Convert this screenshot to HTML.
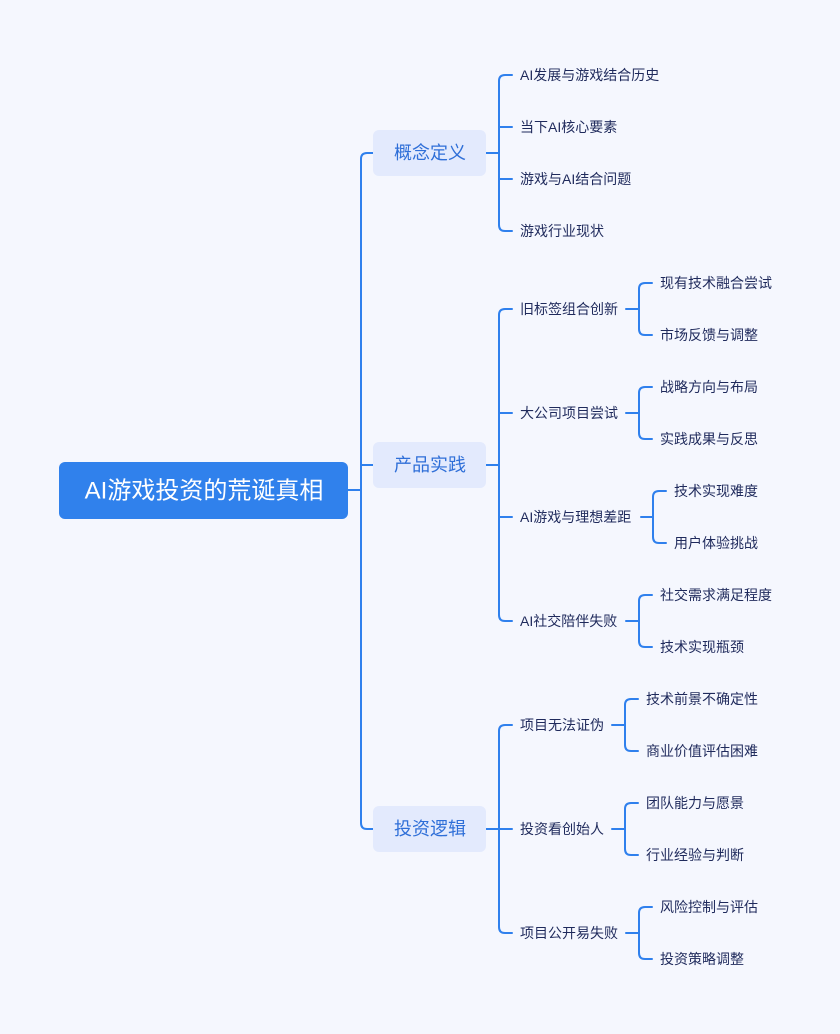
<!DOCTYPE html>
<html><head><meta charset="utf-8"><style>
html,body{margin:0;padding:0;background:#f5f7fe;}
svg{display:block;}
text{font-family:"Liberation Sans","Noto Sans CJK SC",sans-serif;}
.t{font-size:14px;fill:#1f2a5c;}
.l1{font-size:18px;fill:#2f6fd8;}
</style></head><body>
<svg width="840" height="1034" viewBox="0 0 840 1034" xmlns="http://www.w3.org/2000/svg">
<rect x="0" y="0" width="840" height="1034" fill="#f5f7fe"/>
<g fill="none" stroke="#2f80ed" stroke-width="2" stroke-linecap="round">
<path d="M348 490H361M373 153H367Q361 153 361 159V823Q361 829 367 829H373M361 465H373"/>
<path d="M486 153H499M512 75H505Q499 75 499 81V225Q499 231 505 231H512M499 127H512M499 179H512"/>
<path d="M486 465H499M512 309H505Q499 309 499 315V615Q499 621 505 621H512M499 413H512M499 517H512"/>
<path d="M486 829H499M512 725H505Q499 725 499 731V927Q499 933 505 933H512M499 829H512"/>
<path d="M626 309H639M652 283H645Q639 283 639 289V329Q639 335 645 335H652"/>
<path d="M626 413H639M652 387H645Q639 387 639 393V433Q639 439 645 439H652"/>
<path d="M641 517H653M666 491H659Q653 491 653 497V537Q653 543 659 543H666"/>
<path d="M626 621H639M652 595H645Q639 595 639 601V641Q639 647 645 647H652"/>
<path d="M612 725H625M638 699H631Q625 699 625 705V745Q625 751 631 751H638"/>
<path d="M612 829H625M638 803H631Q625 803 625 809V849Q625 855 631 855H638"/>
<path d="M626 933H639M652 907H645Q639 907 639 913V953Q639 959 645 959H652"/>
</g>
<rect x="59" y="462" width="289" height="57" rx="6" fill="#3081ec"/>
<text x="204" y="491" font-size="24" fill="#fff" text-anchor="middle" dominant-baseline="central">AI游戏投资的荒诞真相</text>
<rect x="373" y="130" width="113" height="46" rx="6" fill="#e3eafd"/>
<rect x="373" y="442" width="113" height="46" rx="6" fill="#e3eafd"/>
<rect x="373" y="806" width="113" height="46" rx="6" fill="#e3eafd"/>
<g text-anchor="middle" dominant-baseline="central" class="l1">
<text x="430" y="153" class="l1">概念定义</text>
<text x="430" y="465" class="l1">产品实践</text>
<text x="430" y="829" class="l1">投资逻辑</text>
</g>
<g dominant-baseline="central">
<text class="t" x="520" y="75">AI发展与游戏结合历史</text>
<text class="t" x="520" y="127">当下AI核心要素</text>
<text class="t" x="520" y="179">游戏与AI结合问题</text>
<text class="t" x="520" y="231">游戏行业现状</text>
<text class="t" x="520" y="309">旧标签组合创新</text>
<text class="t" x="520" y="413">大公司项目尝试</text>
<text class="t" x="520" y="517">AI游戏与理想差距</text>
<text class="t" x="520" y="621">AI社交陪伴失败</text>
<text class="t" x="520" y="725">项目无法证伪</text>
<text class="t" x="520" y="829">投资看创始人</text>
<text class="t" x="520" y="933">项目公开易失败</text>
<text class="t" x="660" y="283">现有技术融合尝试</text>
<text class="t" x="660" y="335">市场反馈与调整</text>
<text class="t" x="660" y="387">战略方向与布局</text>
<text class="t" x="660" y="439">实践成果与反思</text>
<text class="t" x="674" y="491">技术实现难度</text>
<text class="t" x="674" y="543">用户体验挑战</text>
<text class="t" x="660" y="595">社交需求满足程度</text>
<text class="t" x="660" y="647">技术实现瓶颈</text>
<text class="t" x="646" y="699">技术前景不确定性</text>
<text class="t" x="646" y="751">商业价值评估困难</text>
<text class="t" x="646" y="803">团队能力与愿景</text>
<text class="t" x="646" y="855">行业经验与判断</text>
<text class="t" x="660" y="907">风险控制与评估</text>
<text class="t" x="660" y="959">投资策略调整</text>
</g>
</svg>
</body></html>
